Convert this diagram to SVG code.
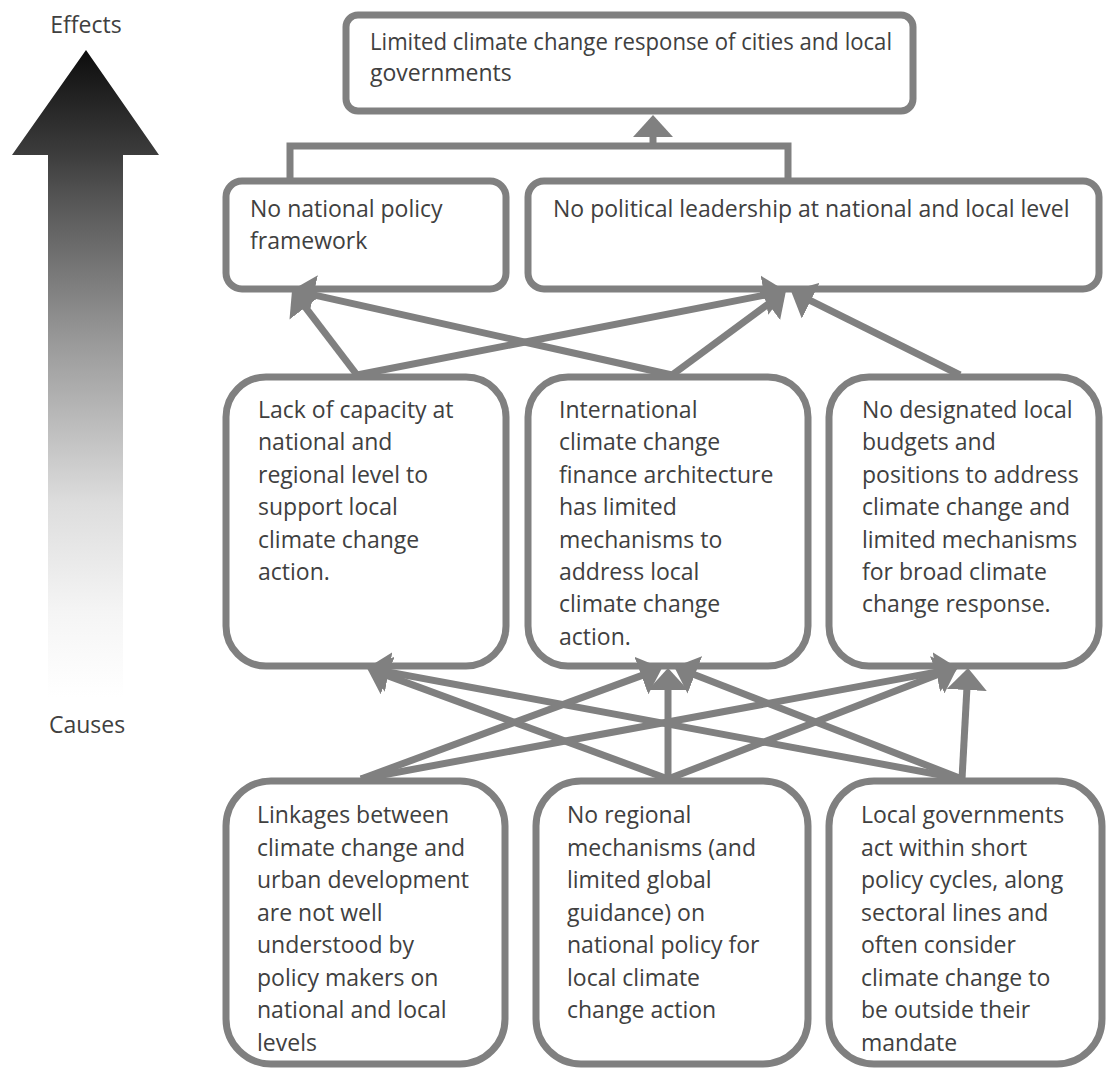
<svg xmlns="http://www.w3.org/2000/svg" width="1106" height="1068" viewBox="0 0 1106 1068">
<style>
  .box{fill:#ffffff;stroke:#808080;stroke-width:7}
  .t{font-family:"Open Sans","Noto Sans","DejaVu Sans",sans-serif;font-size:23px;fill:#404040}
  .lbl{font-family:"Open Sans","Noto Sans","DejaVu Sans",sans-serif;font-size:23px;fill:#404040;text-anchor:middle}
  .c{fill:none;stroke:#808080;stroke-width:7}
  .ca{fill:none;stroke:#808080;stroke-width:7;marker-end:url(#ah)}
</style>
<defs>
  <marker id="ah" markerWidth="22" markerHeight="40" refX="16" refY="20" orient="auto" markerUnits="userSpaceOnUse" viewBox="0 0 22 40">
    <path d="M0,0 L22,20 L0,40 z" fill="#808080"/>
  </marker>
  <linearGradient id="g" gradientUnits="userSpaceOnUse" x1="0" y1="50" x2="0" y2="697">
    <stop offset="0" stop-color="#0d0d0d"/>
    <stop offset="0.16" stop-color="#3c3c3c"/>
    <stop offset="0.23" stop-color="#555555"/>
    <stop offset="0.45" stop-color="#999999"/>
    <stop offset="0.7" stop-color="#dddddd"/>
    <stop offset="0.87" stop-color="#f5f5f5"/>
    <stop offset="1" stop-color="#ffffff"/>
  </linearGradient>
</defs>

<g id="scale">
  <polygon points="86,50 159,155 123,155 123,697 48,697 48,155 12,155" fill="url(#g)"/>
  <text class="lbl" x="86" y="33">Effects</text>
  <text class="lbl" x="87" y="733">Causes</text>
</g>

<g id="n-top">
  <rect class="box" x="346" y="15" width="567" height="96" rx="12"/>
  <text class="t" x="370" y="50" textLength="522" lengthAdjust="spacingAndGlyphs">Limited climate change response of cities and local</text>
  <text class="t" x="370" y="81">governments</text>
</g>

<g id="n-policy">
  <rect class="box" x="226" y="181" width="280" height="108" rx="16"/>
  <text class="t" x="250" y="217">No national policy</text>
  <text class="t" x="250" y="249">framework</text>
</g>

<g id="n-leadership">
  <rect class="box" x="528" y="181" width="571" height="108" rx="16"/>
  <text class="t" x="553" y="217">No political leadership at national and local level</text>
</g>

<g id="n-capacity">
  <rect class="box" x="226" y="377" width="280" height="289" rx="40"/>
  <text class="t" x="258" y="418">Lack of capacity at</text>
  <text class="t" x="258" y="450.4">national and</text>
  <text class="t" x="258" y="482.8">regional level to</text>
  <text class="t" x="258" y="515.2">support local</text>
  <text class="t" x="258" y="547.6">climate change</text>
  <text class="t" x="258" y="580">action.</text>
</g>

<g id="n-finance">
  <rect class="box" x="528" y="377" width="280" height="289" rx="40"/>
  <text class="t" x="559" y="418">International</text>
  <text class="t" x="559" y="450.4">climate change</text>
  <text class="t" x="559" y="482.8">finance architecture</text>
  <text class="t" x="559" y="515.2">has limited</text>
  <text class="t" x="559" y="547.6">mechanisms to</text>
  <text class="t" x="559" y="580">address local</text>
  <text class="t" x="559" y="612.4">climate change</text>
  <text class="t" x="559" y="644.8">action.</text>
</g>

<g id="n-budgets">
  <rect class="box" x="829" y="377" width="270" height="289" rx="40"/>
  <text class="t" x="862" y="418">No designated local</text>
  <text class="t" x="862" y="450.4">budgets and</text>
  <text class="t" x="862" y="482.8">positions to address</text>
  <text class="t" x="862" y="515.2">climate change and</text>
  <text class="t" x="862" y="547.6">limited mechanisms</text>
  <text class="t" x="862" y="580">for broad climate</text>
  <text class="t" x="862" y="612.4">change response.</text>
</g>

<g id="n-linkages">
  <rect class="box" x="226" y="781" width="279" height="283" rx="45"/>
  <text class="t" x="257" y="823">Linkages between</text>
  <text class="t" x="257" y="855.5">climate change and</text>
  <text class="t" x="257" y="888">urban development</text>
  <text class="t" x="257" y="920.5">are not well</text>
  <text class="t" x="257" y="953">understood by</text>
  <text class="t" x="257" y="985.5">policy makers on</text>
  <text class="t" x="257" y="1018">national and local</text>
  <text class="t" x="257" y="1050.5">levels</text>
</g>

<g id="n-regional">
  <rect class="box" x="536" y="781" width="272" height="283" rx="45"/>
  <text class="t" x="567" y="823">No regional</text>
  <text class="t" x="567" y="855.5">mechanisms (and</text>
  <text class="t" x="567" y="888">limited global</text>
  <text class="t" x="567" y="920.5">guidance) on</text>
  <text class="t" x="567" y="953">national policy for</text>
  <text class="t" x="567" y="985.5">local climate</text>
  <text class="t" x="567" y="1018">change action</text>
</g>

<g id="n-local">
  <rect class="box" x="829" y="781" width="273" height="283" rx="45"/>
  <text class="t" x="861" y="823">Local governments</text>
  <text class="t" x="861" y="855.5">act within short</text>
  <text class="t" x="861" y="888">policy cycles, along</text>
  <text class="t" x="861" y="920.5">sectoral lines and</text>
  <text class="t" x="861" y="953">often consider</text>
  <text class="t" x="861" y="985.5">climate change to</text>
  <text class="t" x="861" y="1018">be outside their</text>
  <text class="t" x="861" y="1050.5">mandate</text>
</g>

<g id="connectors">
  <path class="c" d="M290,181 V146 H788 V181"/>
  <path class="ca" d="M653,146 V121"/>

  <path class="ca" d="M357,375 L295.7,294.7"/>
  <path class="ca" d="M357,375 L780.1,292.1"/>
  <path class="ca" d="M672,375 L297.9,291.3"/>
  <path class="ca" d="M672,375 L781.1,294.5"/>
  <path class="ca" d="M960,375 L796.4,293.6"/>

  <path class="ca" d="M361,779 L656.4,670.1"/>
  <path class="ca" d="M361,779 L952.1,669.1"/>
  <path class="ca" d="M668,779 L372.6,670.1"/>
  <path class="ca" d="M668,779 L668,674"/>
  <path class="ca" d="M668,779 L952.1,669.1"/>
  <path class="ca" d="M962,779 L372.9,669.1"/>
  <path class="ca" d="M962,779 L679.9,669.1"/>
  <path class="ca" d="M962,779 L967.7,674"/>
</g>
</svg>
